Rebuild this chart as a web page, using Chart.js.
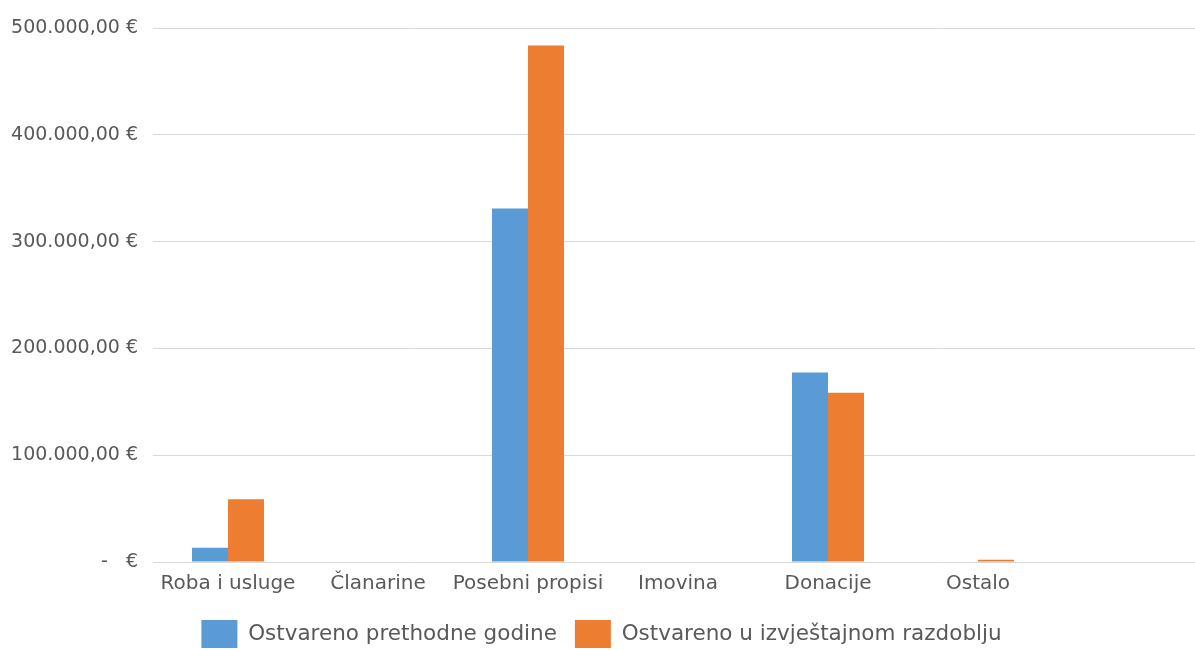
<!DOCTYPE html>
<html>
<head>
<meta charset="utf-8">
<script src="https://cdn.jsdelivr.net/npm/chart.js@4.4.1/dist/chart.umd.min.js"></script>
<style>
  html, body { margin: 0; padding: 0; background: #fff; overflow: hidden; }
  #wrap { width: 1203px; height: 658px; }
</style>
</head>
<body>
<div id="wrap"><canvas id="c" width="1203" height="658"></canvas></div>
<script>
// categories (last slot is empty in the original sheet)
const categories = ["Roba i usluge", "Članarine", "Posebni propisi", "Imovina", "Donacije", "Ostalo", ""];
const prethodne = [13400, 0, 331000, 0, 177500, 0, null];
const izvjestajno = [58800, 0, 483500, 0, 158500, 2200, null];
const yTicks = [0, 100000, 200000, 300000, 400000, 500000];

const textColor = "#595959";
const fontFamily = "'DejaVu Sans', Verdana, sans-serif";

// 500000 -> "500.000,00 €", 0 -> "-   €"
function euro(v) {
  if (v === 0) return "-   €";
  const s = Math.round(v).toString().replace(/\B(?=(\d{3})+(?!\d))/g, ".");
  return s + ",00 €";
}

new Chart(document.getElementById("c"), {
  type: "bar",
  data: {
    labels: categories,
    datasets: [
      {
        label: "Ostvareno prethodne godine",
        data: prethodne,
        backgroundColor: "#5B9BD5",
        categoryPercentage: 0.48,
        barPercentage: 1.0
      },
      {
        label: "Ostvareno u izvještajnom razdoblju",
        data: izvjestajno,
        backgroundColor: "#ED7D31",
        categoryPercentage: 0.48,
        barPercentage: 1.0
      }
    ]
  },
  options: {
    responsive: false,
    animation: false,
    layout: { padding: { top: 28, right: 0, bottom: 0, left: 0 } },
    plugins: {
      legend: {
        position: "bottom",
        labels: {
          color: textColor,
          font: { family: fontFamily, size: 21.5 },
          boxWidth: 36,
          boxHeight: 28,
          padding: 18
        }
      },
      tooltip: { enabled: false }
    },
    scales: {
      x: {
        grid: { display: false },
        border: { display: false },
        afterFit: (scale) => { scale.height += 4; },
        ticks: {
          color: textColor,
          font: { family: fontFamily, size: 20 },
          padding: 2,
          maxRotation: 0,
          autoSkip: false
        }
      },
      y: {
        min: 0,
        max: 500000,
        afterBuildTicks: (scale) => { scale.ticks = yTicks.map(v => ({ value: v })); },
        afterFit: (scale) => { scale.width = 153; },
        grid: { color: "#d9d9d9", lineWidth: 1, drawTicks: false },
        border: { display: false },
        ticks: {
          color: textColor,
          font: { family: fontFamily, size: 19 },
          padding: 15,
          callback: (v) => euro(v)
        }
      }
    }
  }
});
</script>
</body>
</html>
